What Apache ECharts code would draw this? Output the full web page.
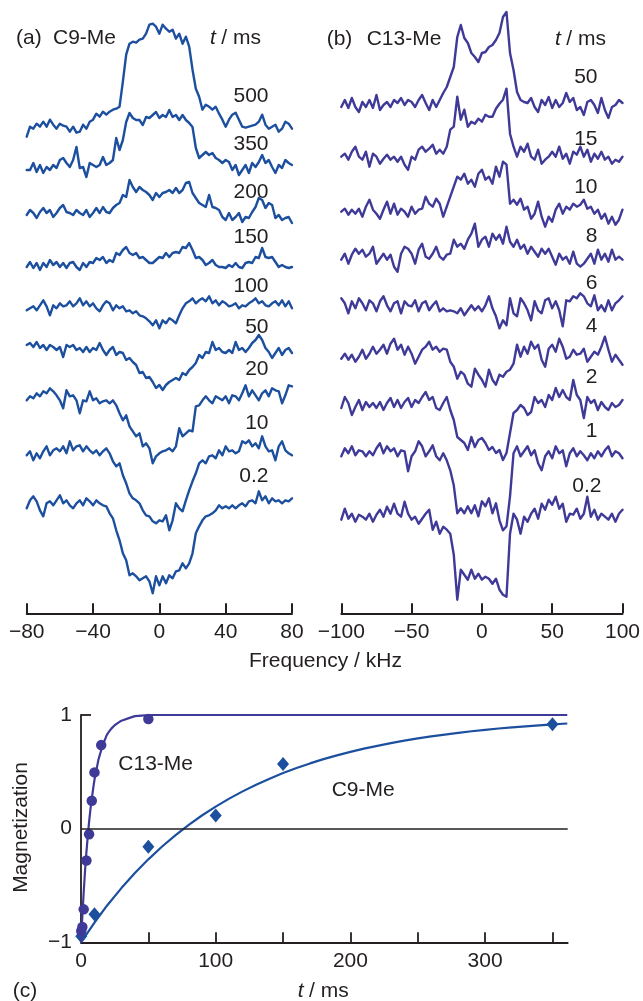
<!DOCTYPE html>
<html><head><meta charset="utf-8">
<script src="https://cdn.jsdelivr.net/npm/echarts@6/dist/echarts.min.js"></script>
<style>html,body{margin:0;padding:0;background:#fff}#c{width:643px;height:1001px}</style>
</head><body><div id="c"></div>
<script>
// ---------- DATA ----------
// Panel (a) C9-Me: spectra sampled every 2 kHz from -80 to 80 kHz (intensity, arbitrary units)
const freqA = { start: -80, step: 2 };
const labelsA = ['500', '350', '200', '150', '100', '50', '20', '10', '0.2'];
const a500 = [-10,0,-2,3,0,5,0,7,2,-2, 3,1,0,-5,0,-6,-5,2,-2,5, 7,13,10,15,12,15,17,18,20,45, 72,83,85,84,87,88,93,102,103,100, 93,102,98,95,97,88,93,83,90,80, 57,38,30,17,22,20,17,20,13,7, 0,7,12,14,7,0,-1,0,1,2, 5,12,2,-2,0,2,-5,-2,5,3, -2];
const a350 = [0,0,7,-2,5,-3,3,0,5,2, 10,12,7,3,10,23,2,3,-7,7, 5,3,5,13,5,7,10,32,20,30, 48,57,52,50,50,45,53,52,55,58, 52,55,53,60,53,55,50,55,50,47, 43,22,12,15,18,15,17,12,10,7, 10,8,0,5,-5,0,5,-3,7,3, 8,15,7,10,3,-3,5,2,10,7, 5];
const a200 = [0,5,2,-3,3,7,2,5,-2,2, 7,10,3,2,0,5,2,0,5,-2, 2,7,2,8,3,2,7,10,12,20, 18,35,28,23,28,25,23,20,15,22, 18,22,23,25,22,27,22,25,32,33, 22,17,12,10,8,20,8,7,5,-2, -5,2,-5,-2,2,-7,-2,-3,3,8, 17,15,7,12,10,-3,0,-5,-3,-2, -8];
const a150 = [-2,3,-3,2,-5,2,-2,5,0,3, -2,2,-3,2,3,-2,-5,2,-2,3, 2,7,5,8,2,5,3,12,10,15, 18,12,10,12,7,8,5,2,2,5, 8,7,12,8,12,13,12,18,17,22, 15,7,8,5,0,2,5,0,-2,-2, -3,0,-2,2,-2,-3,2,3,2,8, 7,17,8,7,8,3,-2,0,-2,-3, -2];
const a100 = [-2,0,2,-2,3,8,2,-7,3,0, 5,2,3,7,2,5,10,3,7,2, 5,0,-3,3,7,5,-2,3,0,2, -3,-2,-5,-3,-7,-8,-10,-13,-17,-12, -20,-12,-15,-10,-12,-15,-7,0,5,7, 10,5,8,10,7,12,5,8,3,7, 5,2,3,5,0,3,2,5,7,10, 5,7,3,2,5,7,3,8,2,7, 0];
const a50  = [0,2,-2,3,-3,0,-5,0,-2,-5, -2,-12,0,-2,0,-5,-3,-7,-2,-7, -3,-5,2,-5,-10,-5,-2,-10,-7,-8, -15,-13,-17,-20,-28,-27,-33,-32,-37,-43, -40,-45,-40,-37,-35,-33,-35,-28,-30,-25, -22,-18,-10,-13,-7,-8,3,-5,-3,-7, -8,-5,-8,3,-5,-3,-7,-3,2,5, 10,5,-3,-7,-13,-8,-3,-10,-5,-3, -8];
const a20  = [-2,2,0,5,2,7,5,10,7,3, -2,-10,8,2,3,-2,-15,-2,-3,7, -2,0,-5,-3,-2,-5,-2,-7,-15,-22, -17,-28,-33,-38,-35,-48,-45,-50,-65,-58, -55,-53,-52,-50,-53,-48,-30,-38,-35,-32, -33,-8,-7,-2,2,-2,-5,2,0,-2, 2,-5,3,2,-2,5,13,2,8,3, -2,5,8,2,10,8,7,-5,3,13, 12];
const a10  = [-2,2,-7,0,-5,2,7,-2,3,5, 2,7,0,12,3,7,8,2,7,3, 0,3,-2,2,5,0,-8,-13,-10,-22, -30,-40,-45,-47,-50,-57,-62,-63,-68,-70, -67,-68,-62,-77,-67,-50,-55,-58,-47,-37, -28,-20,-10,-7,-10,-3,-2,-5,3,-2, 7,2,3,0,2,12,10,13,7,10, 5,17,7,2,3,-7,7,12,3,0, -2];
const a02  = [-5,3,7,2,-7,-13,0,2,-2,3, 8,0,3,-2,-5,0,3,-2,5,2, -2,3,0,-2,-3,-10,-15,-27,-37,-50, -57,-72,-70,-73,-77,-75,-73,-78,-90,-73, -82,-73,-80,-72,-75,-68,-67,-60,-65,-60, -50,-30,-23,-17,-13,-12,-10,-7,-2,-5, -3,-5,-2,-5,-2,0,-3,2,3,0, 12,3,7,0,5,2,3,0,3,2, 5];

// Panel (b) C13-Me: spectra sampled every 2.5 kHz from -100 to 100 kHz
const freqB = { start: -100, step: 2.5 };
const labelsB = ['50', '15', '10', '8', '6', '4', '2', '1', '0.2'];
const b50 = [-2,5,-3,7,-2,-7,3,-2,5,-3, 10,-5,0,3,-2,5,2,7,0,5, 3,-2,5,10,2,-5,5,-2,5,12, 18,28,38,68,80,67,62,52,48,43, 52,53,58,60,65,72,88,93,52,35, 13,5,3,2,7,-2,-7,5,0,8, -3,5,-2,2,12,3,7,-5,-2,-10, 3,5,0,-8,7,-5,-13,-2,0,5, 2];
const b15 = [0,3,-3,5,10,0,-3,5,-10,3, 0,-7,-2,2,-3,0,-5,0,-8,-13, 0,-3,7,10,5,8,12,3,7,3, 10,27,30,60,37,47,30,35,33,38, 35,42,40,40,48,53,57,68,23,10, 0,10,5,13,0,-3,7,-7,-3,0, 5,0,10,-2,3,-7,5,2,10,0, 7,-5,3,-2,5,-3,0,-7,-3,-5, 0];
const b10 = [0,3,-3,2,-2,3,-5,5,12,2, -2,-7,2,10,-2,8,-3,3,0,-5, 5,-2,2,3,15,8,5,13,8,-5, 5,15,25,35,32,38,28,32,25,38, 42,32,35,28,45,35,50,47,8,12, 7,13,2,5,-7,-2,10,-5,-15,-5, -10,2,8,-2,5,2,8,5,7,12, 3,5,-2,2,-7,-2,-12,-5,-13,-8, 2];
const b8  = [-3,3,-7,2,8,3,7,0,3,10, -7,-2,3,-3,2,-10,-15,3,10,8, 3,-7,7,13,0,-2,3,10,0,-3, 2,3,17,10,13,8,17,23,33,10, 17,20,10,23,17,22,13,30,15,10, 17,8,12,3,10,5,0,8,3,8, 0,-8,3,-3,0,-7,5,-7,-10,-7, -2,3,-7,7,-3,3,-5,7,-3,0, -3];
const b6  = [5,0,-10,2,-5,5,0,-7,3,0, -8,2,7,-2,-8,0,2,-10,2,-2, -3,3,-8,0,2,-7,-2,2,-8,-5, -8,-7,-8,-10,-5,-12,-7,-2,-7,-3, -8,-2,7,-5,-13,-25,-17,-22,5,-10, -13,5,0,-7,-17,2,-7,-10,3,5, -5,2,-7,-23,3,2,7,5,10,7, 0,-3,8,-7,-2,-8,3,-7,0,3, 7];
const b4  = [-2,3,-3,2,-5,0,7,-2,3,10, 3,7,12,3,13,18,7,12,2,10, 3,-7,0,7,10,15,7,10,5,8, 7,-5,-10,-22,-15,-18,-27,-30,-12,-18, -23,-30,-13,-23,-28,-18,-20,-15,-13,-7, 12,0,10,3,15,8,12,-3,-10,8, 12,5,18,10,-2,0,7,2,3,8, -5,0,5,2,10,20,7,-5,2,-3, -8];
const b2  = [-3,8,2,-10,-2,5,-5,3,-2,2, -3,3,-5,2,7,-2,5,-3,3,7, -2,5,2,8,13,5,8,-3,-5,2, 8,-5,-15,-32,-35,-38,-45,-32,-42,-35, -33,-38,-45,-42,-48,-45,-55,-48,-28,-8, -5,0,-3,-10,-7,8,2,5,-2,10, 5,17,8,15,8,5,25,10,5,-13, 8,2,5,-5,3,-2,-5,2,-2,0, 5];
const b1  = [-3,5,0,7,-2,3,2,-3,2,-2, 5,10,0,7,2,5,-3,3,2,-18, -3,2,12,7,-3,2,8,-3,-7,0, -7,-17,-32,-60,-55,-60,-53,-60,-52,-63, -48,-53,-45,-60,-50,-67,-77,-73,-43,0, 7,-3,2,7,-2,3,-10,-17,-3,2, -5,7,0,3,-13,0,5,-3,2,-2, -7,0,-5,2,-3,3,7,-3,2,0, -5];
const b02 = [-3,8,-2,3,-5,2,0,-3,3,-5, 2,7,0,10,3,13,3,0,15,3, -3,0,-7,-2,3,7,-13,-5,-17,-10, -13,-17,-38,-83,-53,-58,-63,-53,-62,-57, -63,-60,-62,-67,-62,-73,-78,-80,-17,3, -3,-17,0,-5,3,8,-2,13,7,17, 12,20,8,13,-5,3,2,8,-2,3, 20,0,7,-3,3,0,-3,3,-5,3, 7];

// Panel (c): magnetization recovery
const c13Times = [0.2, 1, 2, 4, 6, 8, 10, 15, 50];
const c13Mag   = [-0.9, -0.865, -0.71, -0.28, -0.05, 0.245, 0.495, 0.735, 0.965];
const c9Times  = [0.2, 10, 50, 100, 150, 350];
const c9Mag    = [-0.947, -0.753, -0.16, 0.116, 0.568, 0.918];
const c13FitT  = [0, 1, 2, 3, 4, 5, 6, 7, 8, 9, 10, 11, 12, 13, 14, 15, 16, 17, 18, 19, 20, 22.5, 25, 27.5, 30, 35, 40, 45, 50, 361];
const c13FitM  = [-1, -0.77, -0.56, -0.37, -0.21, -0.07, 0.06, 0.17, 0.26, 0.35, 0.43, 0.49, 0.55, 0.61, 0.65, 0.69, 0.73, 0.76, 0.79, 0.82, 0.84, 0.88, 0.91, 0.93, 0.95, 0.97, 0.99, 0.995, 1.0, 1.0];
const c9FitT   = [0, 10, 20, 30, 40, 50, 60, 70, 80, 90, 100, 110, 120, 130, 140, 150, 160, 170, 180, 190, 200, 210, 220, 230, 240, 250, 260, 270, 280, 290, 300, 310, 320, 330, 340, 350, 361];
const c9FitM   = [-1, -0.826, -0.667, -0.523, -0.391, -0.270, -0.159, -0.059, 0.034, 0.118, 0.194, 0.264, 0.328, 0.387, 0.440, 0.489, 0.533, 0.574, 0.612, 0.645, 0.676, 0.704, 0.729, 0.753, 0.774, 0.794, 0.812, 0.828, 0.843, 0.857, 0.869, 0.881, 0.891, 0.900, 0.909, 0.917, 0.925];

const ticksA = [-80, -40, 0, 40, 80];
const ticksB = [-100, -50, 0, 50, 100];
const ticksCx = [0, 100, 200, 300];
const ticksCy = [-1, 0, 1];

// ---------- LAYOUT / STYLE ----------
const colA = '#1c4f9e', colB = '#3f3a98', ink = '#231f20';
const FONT = '"Liberation Sans", Arial, Helvetica, sans-serif';
const FS = 21;
const AXIS_H = 613.3;
const offA = [486.6, 443.3, 398.3, 348.3, 305, 268.3, 215, 160, 110];
const offB = [508.3, 456.6, 401.6, 356.6, 310, 256.6, 208.3, 160, 96.6];
const labelYA = [96, 144, 192.5, 237.5, 286, 327, 369, 423.7, 475.8];
const labelYB = [77.5, 139, 187.5, 235.8, 283.3, 326.7, 377.5, 431, 485.8];
const minus = v => (v < 0 ? '\u2212' + Math.abs(v) : String(v));

const specA = [a500, a350, a200, a150, a100, a50, a20, a10, a02];
const specB = [b50, b15, b10, b8, b6, b4, b2, b1, b02];

const series = [];
function addSpectra(list, freq, offs, axis, color) {
  list.forEach((arr, k) => {
    series.push({
      type: 'line', xAxisIndex: axis, yAxisIndex: axis,
      data: arr.map((v, i) => [freq.start + i * freq.step, offs[k] + v]),
      symbol: 'none', silent: true, clip: false,
      lineStyle: { color: color, width: 2.4, join: 'round', cap: 'round' }
    });
  });
}
addSpectra(specA, freqA, offA, 0, colA);
addSpectra(specB, freqB, offB, 1, colB);

series.push({
  type: 'line', xAxisIndex: 2, yAxisIndex: 2, clip: false, symbol: 'none', silent: true,
  data: c9FitT.map((t, i) => [t, c9FitM[i]]),
  lineStyle: { color: colA, width: 2.2, join: 'round' },
  markLine: { silent: true, symbol: 'none', label: { show: false },
    lineStyle: { color: ink, width: 1.6, type: 'solid' }, data: [{ yAxis: 0 }] }
});
series.push({
  type: 'line', xAxisIndex: 2, yAxisIndex: 2, clip: false, symbol: 'none', silent: true,
  data: c13FitT.map((t, i) => [t, c13FitM[i]]),
  lineStyle: { color: colB, width: 2.2, join: 'round' }
});
series.push({
  type: 'scatter', xAxisIndex: 2, yAxisIndex: 2, clip: false, silent: true,
  symbol: 'diamond', symbolSize: [12, 14], itemStyle: { color: colA, opacity: 1 },
  data: c9Times.map((t, i) => [t, c9Mag[i]])
});
series.push({
  type: 'scatter', xAxisIndex: 2, yAxisIndex: 2, clip: false, silent: true,
  symbol: 'circle', symbolSize: 10.5, itemStyle: { color: colB, opacity: 1 },
  data: c13Times.map((t, i) => [t, c13Mag[i]])
});

function specXAxis(idx, min, max, interval, ticks) {
  return {
    type: 'value', gridIndex: idx, min: min, max: max, interval: interval, position: 'bottom',
    axisLine: { show: true, onZero: false, lineStyle: { color: ink, width: 2 } },
    axisTick: { show: true, inside: true, length: 10, customValues: ticks, lineStyle: { color: ink, width: 2 } },
    axisLabel: { show: true, customValues: ticks, margin: 8, color: ink, fontSize: FS, fontFamily: FONT, formatter: minus },
    splitLine: { show: false }
  };
}

const graphic = [];
function txt(text, x, y, align, extra) {
  graphic.push(Object.assign({
    type: 'text', silent: true,
    style: { text: text, x: x, y: y, fill: ink, fontSize: FS, fontFamily: FONT,
      textAlign: align || 'left', textVerticalAlign: 'middle' }
  }, extra || {}));
}
function italicT(x, y) {
  graphic.push({ type: 'text', silent: true, style: { text: 't', x: x, y: y, fill: ink, fontSize: FS, fontFamily: FONT, fontStyle: 'italic', textAlign: 'left', textVerticalAlign: 'middle' } });
}
// panel titles
txt('(a)', 16, 38); txt('C9-Me', 53, 38);
italicT(210, 38); txt(' / ms', 215.5, 38);
txt('(b)', 326.7, 39); txt('C13-Me', 366.7, 39);
italicT(555, 39); txt(' / ms', 560.5, 39);
labelsA.forEach((s, k) => txt(s, 268.5, labelYA[k], 'right'));
labelsB.forEach((s, k) => txt(s, s === '0.2' ? 601.5 : 597.5, labelYB[k], 'right'));
txt('Frequency / kHz', 249, 661.7);
// panel c
txt('C13-Me', 118.3, 764); txt('C9-Me', 331.7, 790);
txt('(c)', 12.7, 991); italicT(297.7, 991); txt(' / ms', 303.2, 991);
graphic.push({ type: 'text', silent: true, x: 21.7, y: 827.5, rotation: Math.PI / 2,
  style: { text: 'Magnetization', x: 0, y: 0, fill: ink, fontSize: FS, fontFamily: FONT, textAlign: 'center', textVerticalAlign: 'middle' } });

const option = {
  animation: false,
  backgroundColor: '#ffffff',
  grid: [
    { left: 26.7, top: 0, width: 265.3, height: AXIS_H },
    { left: 341.3, top: 0, width: 283, height: AXIS_H },
    { left: 81, top: 715, width: 486.7, height: 227.3 }
  ],
  xAxis: [
    specXAxis(0, -80, 80, 40, ticksA),
    specXAxis(1, -100, 100, 50, ticksB),
    {
      type: 'value', gridIndex: 2, min: 0, max: 361.3, interval: 50, position: 'bottom',
      axisLine: { show: true, onZero: false, lineStyle: { color: ink, width: 1.8 } },
      axisTick: { show: true, inside: true, length: 10, customValues: [50, 100, 150, 200, 250, 300, 350], lineStyle: { color: ink, width: 1.8 } },
      axisLabel: { show: true, customValues: ticksCx, margin: 8, color: ink, fontSize: FS, fontFamily: FONT },
      splitLine: { show: false }
    }
  ],
  yAxis: [
    { type: 'value', gridIndex: 0, min: 0, max: AXIS_H, show: false },
    { type: 'value', gridIndex: 1, min: 0, max: AXIS_H, show: false },
    {
      type: 'value', gridIndex: 2, min: -1, max: 1, interval: 1,
      axisLine: { show: true, onZero: false, lineStyle: { color: ink, width: 1.8 } },
      axisTick: { show: true, inside: true, length: 10, customValues: [1], lineStyle: { color: ink, width: 1.8 } },
      axisLabel: { show: true, customValues: ticksCy, margin: 9, color: ink, fontSize: FS, fontFamily: FONT, formatter: minus },
      splitLine: { show: false }
    }
  ],
  series: series,
  graphic: graphic
};
const chart = echarts.init(document.getElementById('c'), null, { renderer: 'canvas' });
chart.setOption(option);
</script>
</body></html>
